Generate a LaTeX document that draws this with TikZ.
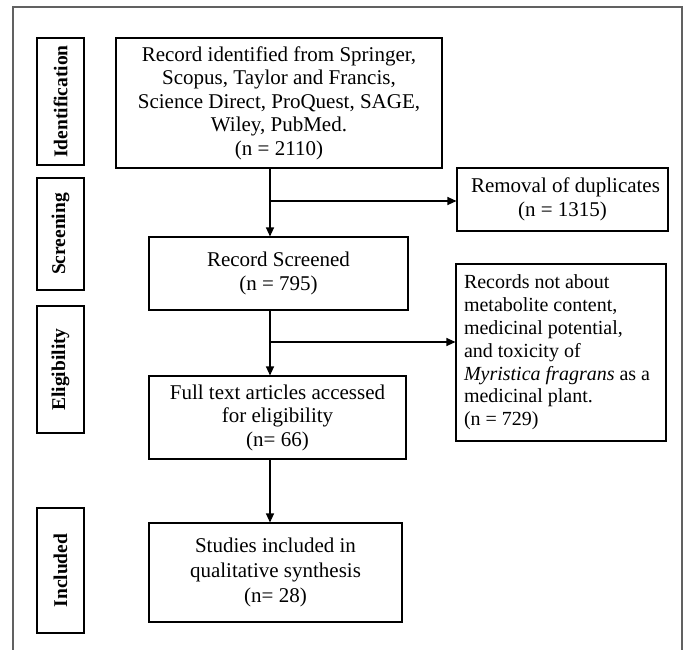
\documentclass[tikz,border=0pt]{standalone}
\usepackage{fontspec}
\setmainfont{Liberation Serif}
\usetikzlibrary{arrows.meta}
\newcommand{\shiftedtext}[3]{\raisebox{#1}{\parbox{#2}{\centering #3}}}
\begin{document}
\begin{tikzpicture}[x=1pt,y=-1pt,
  box/.style={draw=black, line width=1.1pt, align=center, inner sep=0pt,
    font=\fontsize{21}{23.5}\selectfont},
  side/.style={draw=black, line width=1.1pt, rotate=90, inner sep=0pt,
    minimum height=47pt, font=\fontsize{19.5}{22}\selectfont\bfseries},
  arr/.style={line width=1.1pt, -{Triangle[length=9pt,width=8pt]}},
  frame/.style={draw=black!62, line width=2pt}]
\useasboundingbox (0,0) rectangle (688,649);
% outer frame (open at bottom)
\draw[frame] (13,660) -- (13,7) -- (682,7) -- (682,660);
% phase labels
\node[side, minimum width=127pt] (lid) at (60.5,101.5) {Identification};
\node[side, minimum width=112pt] (lsc) at (60.5,234) {Screening};
\node[side, minimum width=127pt] (lel) at (60.5,369.5) {Eligibility};
\node[side, minimum width=125pt] (lin) at (60.5,570.5) {Included};
% main boxes
\node[box, minimum width=326pt, minimum height=130pt] (top) at (279,103)
  {\shiftedtext{-4pt}{320pt}{Record identified from Springer,\\Scopus, Taylor and Francis,\\Science Direct, ProQuest, SAGE,\\Wiley, PubMed.\\(n = 2110)}};
\node[box, minimum width=211pt, minimum height=63pt] (rem) at (562.5,199.5)
  {\hspace*{6pt}Removal of duplicates\\(n = 1315)};
\node[box, minimum width=259pt, minimum height=73pt] (scr) at (278.5,273.5)
  {Record Screened\\(n = 795)};
\node[box, minimum width=210pt, minimum height=177pt,
  font=\fontsize{20}{22.8}\selectfont] (rec) at (561,352.5)
  {\hspace*{8pt}\parbox[c]{202pt}{\raggedright Records not about\\metabolite content,\\medicinal potential,\\and toxicity of\\\textit{Myristica fragrans} as a\\medicinal plant.\\(n = 729)}};
\node[box, minimum width=257pt, minimum height=83pt] (ful) at (277.5,417.5)
  {\shiftedtext{-8pt}{250pt}{Full text articles accessed\\for eligibility\\(n= 66)}};
\node[box, minimum width=253pt, minimum height=99pt] (stu) at (275.5,572.5)
  {\shiftedtext{-1pt}{250pt}{\baselineskip=25pt Studies included in\\qualitative synthesis\\(n= 28)\par}};
% connectors
\coordinate (spine) at (270,0);
\coordinate (br1) at (270,201);
\coordinate (br2) at (270,342);
\draw[arr] (top.south -| spine) -- (scr.north -| spine);
\draw[arr] (br1) -- (br1 -| rem.west);
\draw[arr] (scr.south -| spine) -- (ful.north -| spine);
\draw[arr] (br2) -- (br2 -| rec.west);
\draw[arr] (ful.south -| spine) -- (stu.north -| spine);
\end{tikzpicture}
\end{document}
